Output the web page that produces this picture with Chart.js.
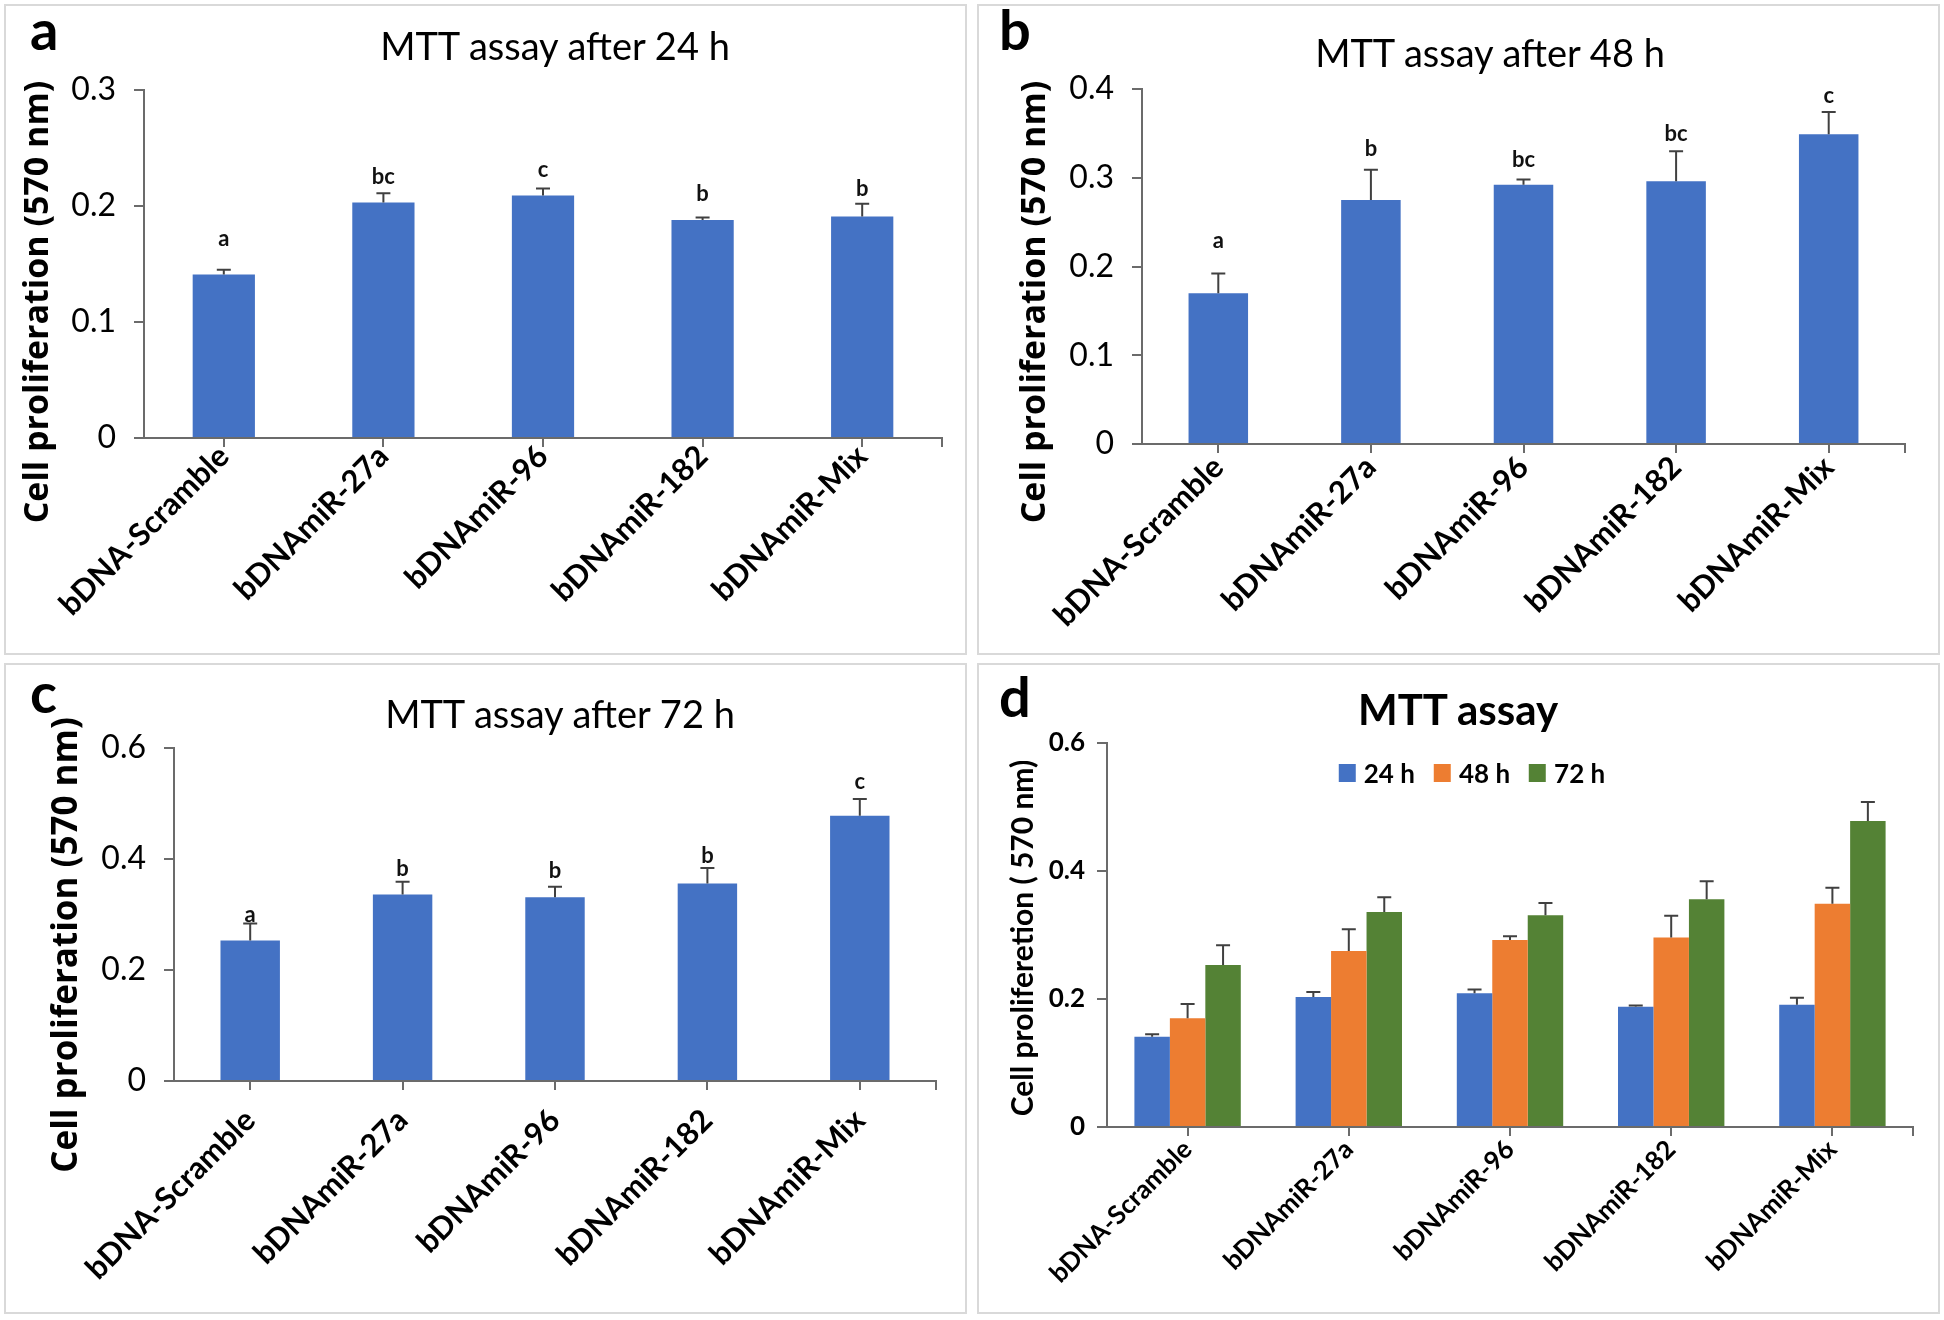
<!DOCTYPE html>
<html lang="en">
<head>
  <meta charset="UTF-8">
  <title>MTT assay</title>
  <script src="https://cdn.jsdelivr.net/npm/chart.js"></script>
  <style>
    body { margin: 0; background: #fff; }
    #page { position: relative; width: 1944px; height: 1320px; background: #fff; overflow: hidden; }
    .panel {
      position: absolute;
      box-sizing: border-box;
      width: 963px;
      height: 651px;
      border: 2px solid #d9d9d9;
    }
    .panel canvas { position: absolute; left: 0; top: 0; }
    .tag { position: absolute; font: bold 56px Lato; line-height: 1; color: #000; }
    .title {
      position: absolute;
      font-family: Lato;
      line-height: 1;
      white-space: nowrap;
      transform: translate(-50%, -50%);
      color: #000;
    }
    .legend {
      position: absolute;
      display: flex;
      align-items: center;
      transform: translate(-50%, -50%);
      font: bold 26px Lato;
      line-height: 1;
      white-space: nowrap;
    }
    .legend-item { display: flex; align-items: center; margin-right: 19px; }
    .legend-item:last-child { margin-right: 0; }
    .legend-color { width: 17px; height: 18px; margin-right: 8px; }
  </style>
</head>
<body>
<div id="page">
  <div class="panel" style="left:4px; top:4px;"><canvas id="chartA" width="959" height="647"></canvas></div>
  <div class="panel" style="left:977px; top:4px;"><canvas id="chartB" width="959" height="647"></canvas></div>
  <div class="panel" style="left:4px; top:663px;"><canvas id="chartC" width="959" height="647"></canvas></div>
  <div class="panel" style="left:977px; top:663px;"><canvas id="chartD" width="959" height="647"></canvas></div>

  <div class="tag" style="left:30px; top:1px;">a</div>
  <div class="tag" style="left:999px; top:1px;">b</div>
  <div class="tag" style="left:30px; top:664px;">c</div>
  <div class="tag" style="left:999px; top:668px;">d</div>

  <div class="title" style="left:555px; top:45px; font-size:38px;">MTT assay after 24 h</div>
  <div class="title" style="left:1490px; top:52px; font-size:38px;">MTT assay after 48 h</div>
  <div class="title" style="left:560px; top:713px; font-size:38px;">MTT assay after 72 h</div>
  <div class="title" style="left:1458px; top:709px; font-size:42px; font-weight:bold;">MTT assay</div>

  <div class="legend" style="left:1472px; top:773px;">
    <div class="legend-item"><div class="legend-color" style="background:#4472C4;"></div><span>24 h</span></div>
    <div class="legend-item"><div class="legend-color" style="background:#ED7D31;"></div><span>48 h</span></div>
    <div class="legend-item"><div class="legend-color" style="background:#548235;"></div><span>72 h</span></div>
  </div>
</div>

<script>
  // categories
  const groups = ['bDNA-Scramble', 'bDNAmiR-27a', 'bDNAmiR-96', 'bDNAmiR-182', 'bDNAmiR-Mix'];

  // 24 h
  const mean24 = [0.141, 0.203, 0.209, 0.188, 0.191];
  const err24 = [0.004, 0.008, 0.006, 0.002, 0.011];
  const sig24 = ['a', 'bc', 'c', 'b', 'b'];
  const sigAt24 = [0.172, 0.225, 0.231, 0.210, 0.215];

  // 48 h
  const mean48 = [0.170, 0.275, 0.292, 0.296, 0.349];
  const err48 = [0.022, 0.034, 0.006, 0.034, 0.025];
  const sig48 = ['a', 'b', 'bc', 'bc', 'c'];
  const sigAt48 = [0.229, 0.333, 0.320, 0.349, 0.392];

  // 72 h
  const mean72 = [0.253, 0.336, 0.331, 0.356, 0.478];
  const err72 = [0.031, 0.023, 0.019, 0.028, 0.030];
  const sig72 = ['a', 'b', 'b', 'b', 'c'];
  const sigAt72 = [0.300, 0.383, 0.379, 0.406, 0.539];

  // y axis ranges
  const yMaxA = 0.3, yStepA = 0.1;
  const yMaxB = 0.4, yStepB = 0.1;
  const yMaxC = 0.6, yStepC = 0.2;
  const yMaxD = 0.6, yStepD = 0.2;

  const BLUE = '#4472C4', ORANGE = '#ED7D31', GREEN = '#548235';
  const AXIS = '#6b6b6b';

  // error bars (plus only), significance letters, y title, end tick
  function annotate(yTitle) {
    return {
      id: 'annotate',
      afterDatasetsDraw(chart) {
        const ctx = chart.ctx;
        const y = chart.scales.y;
        chart.data.datasets.forEach((ds, i) => {
          const meta = chart.getDatasetMeta(i);
          meta.data.forEach((bar, j) => {
            const top = y.getPixelForValue(ds.data[j] + ds.errors[j]);
            ctx.save();
            ctx.strokeStyle = '#404040';
            ctx.lineWidth = 2;
            ctx.beginPath();
            ctx.moveTo(bar.x, bar.y);
            ctx.lineTo(bar.x, top);
            ctx.moveTo(bar.x - 7, top);
            ctx.lineTo(bar.x + 7, top);
            ctx.stroke();
            if (ds.letters) {
              ctx.fillStyle = '#111';
              ctx.font = 'bold 22px Lato';
              ctx.textAlign = 'center';
              ctx.textBaseline = 'middle';
              ctx.fillText(ds.letters[j], bar.x, y.getPixelForValue(ds.letterAt[j]));
            }
            ctx.restore();
          });
        });
      },
      afterDraw(chart) {
        const ctx = chart.ctx;
        const area = chart.chartArea;
        ctx.save();
        // tick at the right end of the category axis
        ctx.strokeStyle = AXIS;
        ctx.lineWidth = 2;
        ctx.beginPath();
        ctx.moveTo(area.right, area.bottom);
        ctx.lineTo(area.right, area.bottom + 9);
        ctx.stroke();
        // y axis title
        ctx.translate(yTitle.x, yTitle.y);
        ctx.rotate(-Math.PI / 2);
        ctx.fillStyle = '#000';
        ctx.font = yTitle.font;
        ctx.textAlign = 'center';
        ctx.textBaseline = 'middle';
        ctx.fillText(yTitle.text, 0, 0);
        ctx.restore();
      }
    };
  }

  function makeChart(id, box, datasets, yMax, yStep, fonts, yTitle) {
    const W = 959, H = 647;
    return new Chart(document.getElementById(id), {
      type: 'bar',
      data: { labels: groups, datasets: datasets },
      options: {
        responsive: false,
        animation: false,
        layout: { padding: { left: 0, right: W - box.right, top: box.top, bottom: 0 } },
        plugins: {
          legend: { display: false },
          tooltip: { enabled: false }
        },
        scales: {
          x: {
            grid: { offset: false, drawOnChartArea: false, tickLength: 9, color: AXIS, lineWidth: 2 },
            border: { color: AXIS, width: 2 },
            ticks: {
              color: '#000',
              font: fonts.x,
              minRotation: 45,
              maxRotation: 45,
              autoSkip: false,
              padding: fonts.xPad
            },
            afterFit: s => { s.height = H - box.bottom; }
          },
          y: {
            min: 0,
            max: yMax,
            grid: { drawOnChartArea: false, tickLength: 10, color: AXIS, lineWidth: 2 },
            border: { color: AXIS, width: 2 },
            ticks: {
              stepSize: yStep,
              color: '#000',
              font: fonts.y,
              padding: fonts.yPad,
              callback: v => String(Math.round(v * 10) / 10)
            },
            afterFit: s => { s.width = box.left; }
          }
        }
      },
      plugins: [annotate(yTitle)]
    });
  }

  function single(mean, err, letters, letterAt) {
    return [{
      data: mean,
      errors: err,
      letters: letters,
      letterAt: letterAt,
      backgroundColor: BLUE,
      barPercentage: 0.39,
      categoryPercentage: 1
    }];
  }

  const yLabel = 'Cell proliferation (570 nm)';
  const xFont = { family: 'Lato', size: 31, weight: 'bold' };
  const yFont = { family: 'Lato', size: 32 };

  function drawAll() {
    makeChart('chartA', { left: 138, right: 936, top: 84, bottom: 432 },
      single(mean24, err24, sig24, sigAt24), yMaxA, yStepA,
      { x: xFont, y: yFont, yPad: 18, xPad: -9 },
      { text: yLabel, x: 32, y: 296, font: 'bold 34px "Open Sans"' });

    makeChart('chartB', { left: 163, right: 926, top: 83, bottom: 438 },
      single(mean48, err48, sig48, sigAt48), yMaxB, yStepB,
      { x: xFont, y: yFont, yPad: 18, xPad: -4 },
      { text: yLabel, x: 56, y: 296, font: 'bold 34px "Open Sans"' });

    makeChart('chartC', { left: 168, right: 930, top: 83, bottom: 416 },
      single(mean72, err72, sig72, sigAt72), yMaxC, yStepC,
      { x: xFont, y: yFont, yPad: 18, xPad: 12 },
      { text: yLabel, x: 61, y: 280, font: 'bold 35px "Open Sans"' });

    makeChart('chartD', { left: 128, right: 934, top: 78, bottom: 462 },
      [
        { label: '24 h', data: mean24, errors: err24, backgroundColor: BLUE, barPercentage: 1, categoryPercentage: 0.66 },
        { label: '48 h', data: mean48, errors: err48, backgroundColor: ORANGE, barPercentage: 1, categoryPercentage: 0.66 },
        { label: '72 h', data: mean72, errors: err72, backgroundColor: GREEN, barPercentage: 1, categoryPercentage: 0.66 }
      ], yMaxD, yStepD,
      { x: { family: 'Lato', size: 26, weight: 'bold' }, y: { family: 'Lato', size: 26, weight: 'bold' }, yPad: 12, xPad: -2 },
      { text: 'Cell proliferetion ( 570 nm)', x: 44, y: 273, font: 'bold 30px Lato' });
  }

  Promise.all([
    document.fonts.load('bold 34px "Open Sans"'),
    document.fonts.load('bold 30px Lato'),
    document.fonts.load('30px Lato')
  ]).then(drawAll, drawAll);
</script>
</body>
</html>
